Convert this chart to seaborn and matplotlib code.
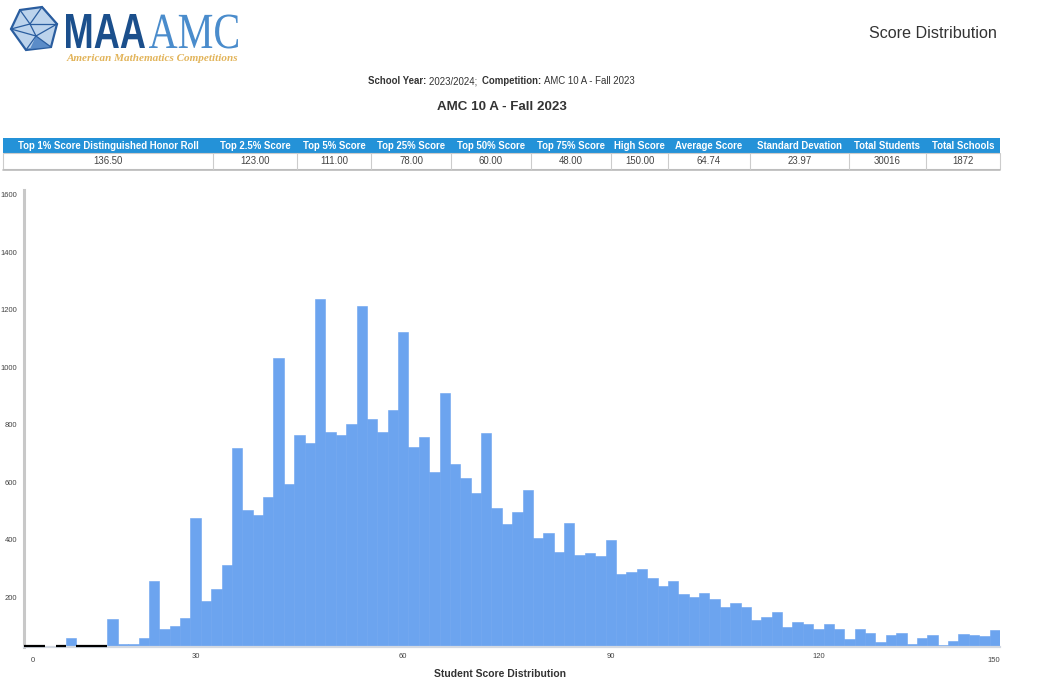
import numpy as np
import matplotlib
matplotlib.use('Agg')
import matplotlib.pyplot as plt
from matplotlib.patches import Rectangle, Polygon, PathPatch
from matplotlib.textpath import TextPath
from matplotlib.font_manager import FontProperties
from matplotlib.transforms import Affine2D
import seaborn as sns

# scores go up in 1.5 point steps, first visible bar is 6.0
score_start = 6.0
score_step = 1.5
counts = [10, 10, 30, 10, 58, 10, 10, 10, 127, 40,
          40, 58, 258, 89, 101, 128, 477, 188, 228, 313,
          718, 504, 486, 550, 1031, 594, 765, 736, 1237, 776,
          765, 802, 1213, 819, 775, 852, 1124, 724, 757, 637,
          910, 664, 616, 564, 771, 512, 454, 498, 574, 406,
          423, 359, 458, 348, 356, 345, 399, 282, 290, 298,
          267, 240, 258, 212, 201, 214, 196, 167, 182, 167,
          122, 133, 149, 96, 115, 107, 91, 107, 89, 55,
          91, 75, 44, 71, 78, 38, 60, 71, 34, 49,
          72, 68, 65, 86]
scores = score_start + score_step * np.arange(len(counts))

table_headers = ['Top 1% Score Distinguished Honor Roll', 'Top 2.5% Score', 'Top 5% Score',
                 'Top 25% Score', 'Top 50% Score', 'Top 75% Score', 'High Score',
                 'Average Score', 'Standard Devation', 'Total Students', 'Total Schools']
table_values = ['136.50', '123.00', '111.00', '78.00', '60.00', '48.00', '150.00',
                '64.74', '23.97', '30016', '1872']

x_ticks = [30, 60, 90, 120]
y_ticks = [200, 400, 600, 800, 1000, 1200, 1400, 1600]
y_floor = 28
y_top = 1616

bar_color = '#6ca4ef'
header_blue = '#2492d8'

W, H = 1039, 693
sns.set_theme(style='white')
plt.rcParams['font.family'] = ['Liberation Sans', 'DejaVu Sans']

fig = plt.figure(figsize=(W / 100, H / 100), dpi=100)
fig.patch.set_facecolor('white')

# overlay in pixel coordinates for the header, logo and table
ov = fig.add_axes([0, 0, 1, 1])
ov.set_xlim(0, W)
ov.set_ylim(H, 0)
ov.axis('off')


def boxed_word(text, family, weight, x0, baseline, width, height, color):
    # squeeze a word into a given pixel box (the logo letters are condensed)
    tp = TextPath((0, 0), text, size=50, prop=FontProperties(family=family, weight=weight))
    ext = tp.get_extents()
    sx, sy = width / ext.width, height / ext.height
    tr = Affine2D().translate(-ext.x0, 0).scale(sx, -sy).translate(x0, baseline)
    ov.add_patch(PathPatch(tr.transform_path(tp), facecolor=color, edgecolor='none'))


# logo icon
outer = [(11, 29), (20, 10), (42, 7), (57, 24), (51, 47), (26, 50)]
ov.add_patch(Polygon(outer, closed=True, facecolor='#bcd3ec', edgecolor='#2a5d9f', lw=1.6))
ov.add_patch(Polygon([(36, 36), (51, 47), (30, 49)], closed=True, facecolor='#5b8cc8', edgecolor='none'))
for a, b in [((20, 10), (30, 24)), ((42, 7), (30, 24)), ((11, 29), (30, 24)), ((30, 24), (36, 36)),
             ((57, 24), (36, 36)), ((42, 7), (57, 24)), ((11, 29), (36, 36)), ((26, 50), (36, 36)),
             ((36, 36), (51, 47)), ((30, 24), (57, 24))]:
    ov.plot([a[0], b[0]], [a[1], b[1]], color='#2a5d9f', lw=0.9)

boxed_word('MAA', 'Liberation Sans', 'bold', 66, 48, 79, 34, '#1b4f8c')
boxed_word('AMC', 'Liberation Serif', 'normal', 149, 48, 89, 34, '#4a8ccc')
ov.text(67, 61, 'American Mathematics Competitions', fontsize=8.0, color='#e2b45a',
        family=['Liberation Serif'], style='italic', fontweight='bold', va='baseline')

ov.text(997, 34, 'Score Distribution', fontsize=11.6, color='#333333', ha='right', va='center')

# subtitle with bold labels
renderer = fig.canvas.get_renderer()
pieces = [('School Year: ', 'bold'), ('2023/2024;  ', 'normal'),
          ('Competition: ', 'bold'), ('AMC 10 A - Fall 2023', 'normal')]
objs = [ov.text(0, 81, s, fontsize=6.9, fontweight=w, color='#333333', va='center') for s, w in pieces]
widths = [o.get_window_extent(renderer).width for o in objs]
x = 501.5 - sum(widths) / 2
for o, w in zip(objs, widths):
    o.set_x(x)
    x += w

ov.text(501.5, 107, 'AMC 10 A - Fall 2023', fontsize=9.6, fontweight='bold', color='#333333',
        ha='center', va='center')

# stats table
col_edges = [3, 213, 297, 371, 451, 531, 611, 668, 750, 849, 926, 1000]
ov.add_patch(Rectangle((col_edges[0], 138), col_edges[-1] - col_edges[0], 15,
                       facecolor=header_blue, edgecolor='none'))
ov.add_patch(Rectangle((col_edges[0], 153), col_edges[-1] - col_edges[0], 16,
                       facecolor='white', edgecolor='#cccccc', lw=0.8))
ov.plot([col_edges[0], col_edges[-1]], [169.5, 169.5], color='#bbbbbb', lw=1.2)
for i, (hdr, val) in enumerate(zip(table_headers, table_values)):
    x0, x1 = col_edges[i], col_edges[i + 1]
    if i > 0:
        ov.plot([x0, x0], [153, 169], color='#cccccc', lw=0.8)
    ov.text((x0 + x1) / 2, 145.7, hdr, fontsize=6.9, fontweight='bold', color='white',
            ha='center', va='center')
    ov.text((x0 + x1) / 2, 161.3, val, fontsize=6.9, color='#444444', ha='center', va='center')

# histogram
ax = fig.add_axes([24.4 / W, 1 - 647 / H, (1000 - 24.4) / W, (647 - 190) / H])
x_lo = score_start - score_step / 2
x_hi = scores[-1] + score_step / 2
sns.histplot(x=scores, weights=counts, binwidth=score_step, binrange=(x_lo, x_hi),
             color=bar_color, alpha=1, edgecolor=bar_color, linewidth=0.4, ax=ax)
ax.set_xlim(x_lo, x_hi)
ax.set_ylim(y_floor, y_top)

# counts too small to reach the visible floor show as a black baseline
for s, c in zip(scores, counts):
    if c < y_floor:
        ax.hlines(y_floor + 2, s - score_step / 2, s + score_step / 2, color='black', lw=1.6,
                  clip_on=False, zorder=5)

ax.set_xticks(x_ticks)
ax.set_xticklabels([str(t) for t in x_ticks])
ax.set_yticks(y_ticks)
ax.set_yticklabels([str(t) for t in y_ticks])
ax.tick_params(axis='both', length=0, labelsize=5.5, colors='#444444')
ax.tick_params(axis='y', pad=5)
ax.tick_params(axis='x', pad=4.5)
ax.text(0.0065, -0.021, '0', transform=ax.transAxes, fontsize=5.5, color='#444444', ha='left', va='top')
ax.text(1.0, -0.021, '150', transform=ax.transAxes, fontsize=5.5, color='#444444', ha='right', va='top')

ax.set_ylabel('')
ax.set_xlabel('Student Score Distribution', fontsize=7.5, fontweight='bold', color='#333333')
ax.xaxis.set_label_coords(0.487, -0.048)

for side in ['top', 'right']:
    ax.spines[side].set_visible(False)
ax.spines['left'].set_color('#c8c8c8')
ax.spines['left'].set_linewidth(2.2)
ax.spines['bottom'].set_color('#d3d9e2')
ax.spines['bottom'].set_linewidth(1.6)
ax.grid(False)
ax.set_facecolor('none')

fig.savefig('out.png', dpi=100)
